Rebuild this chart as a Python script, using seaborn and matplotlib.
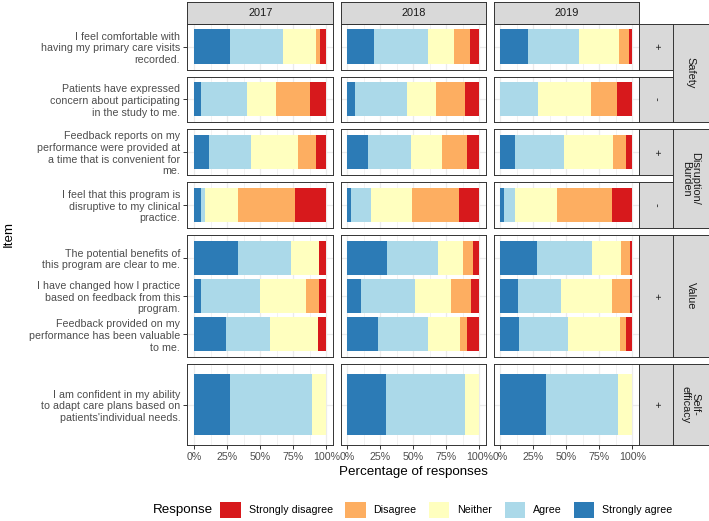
import pandas as pd
import matplotlib.pyplot as plt
import seaborn as sns
from matplotlib.patches import Patch

plt.rcParams['font.family'] = ['Liberation Sans', 'DejaVu Sans']

years = ['2017', '2018', '2019']
responses = ['Strongly agree', 'Agree', 'Neither', 'Disagree', 'Strongly disagree']
colors = ['#2c7bb6', '#abd9e9', '#ffffbf', '#fdae61', '#d7191c']

items = [
    "I feel comfortable with\nhaving my primary care visits\nrecorded.",
    "Patients have expressed\nconcern about participating\nin the study to me.",
    "Feedback reports on my\nperformance were provided at\na time that is convenient for\nme.",
    "I feel that this program is\ndisruptive to my clinical\npractice.",
    "The potential benefits of\nthis program are clear to me.",
    "I have changed how I practice\nbased on feedback from this\nprogram.",
    "Feedback provided on my\nperformance has been valuable\nto me.",
    "I am confident in my ability\nto adapt care plans based on\npatients'individual needs.",
]
domains = ['Safety', 'Safety', 'Disruption/\nBurden', 'Disruption/\nBurden',
           'Value', 'Value', 'Value', 'Self-\nefficacy']
directions = ['+', '-', '+', '-', '+', '+', '+', '+']

# % of responses per item, one value per year (2017, 2018, 2019)
strongly_agree = [[27, 20, 21], [5, 6, 0], [11, 16, 11], [5, 3, 3],
                  [33, 30, 28], [5.5, 10.5, 13.5], [24, 23.5, 14], [27, 29.5, 35]]
agree = [[40, 41, 39], [35, 39, 29], [32, 32.5, 37], [3, 15, 8],
         [40.5, 38.5, 41.5], [44.5, 40.5, 32.5], [33.5, 38, 37], [62, 59.5, 54]]
neither = [[25, 20, 30], [22, 22.5, 40], [35.5, 23.5, 37], [25, 31, 32],
           [21, 19, 22], [34.5, 27.5, 38.5], [36, 23.5, 39.5], [11, 11, 11]]
disagree = [[3, 12, 7.5], [25.5, 21.5, 19.5], [13.5, 18.75, 10.5], [43, 35.5, 41.5],
            [0, 8, 7], [10, 15, 13.5], [0, 6, 5], [0, 0, 0]]
strongly_disagree = [[5, 7, 2.5], [12.5, 11, 11.5], [8, 9.25, 4.5], [24, 15.5, 15.5],
                     [5.5, 4.5, 1.5], [5.5, 6.5, 2], [6.5, 9, 4.5], [0, 0, 0]]

series = [strongly_agree, agree, neither, disagree, strongly_disagree]
rows = []
for i, item in enumerate(items):
    for j, yr in enumerate(years):
        for r, vals in zip(responses, series):
            rows.append({'Item': item, 'Domain': domains[i], 'Direction': directions[i],
                         'Year': yr, 'Response': r, 'Pct': vals[i][j]})
df = pd.DataFrame(rows)
df['End'] = df.groupby(['Item', 'Year'])['Pct'].cumsum()

groups = list(dict.fromkeys(zip(domains, directions)))

# layout in pixels
W, H = 709, 521
def box(x0, x1, y0, y1):
    return [x0 / W, 1 - y1 / H, (x1 - x0) / W, (y1 - y0) / H]

cols_px = [(187.5, 333), (340.5, 486), (493.5, 639)]
rows_px = [(23.5, 69.5), (76.5, 122), (129, 175), (182, 228), (235, 357), (364, 445)]

fig = plt.figure(figsize=(7.09, 5.21), dpi=100)

edge = '#333333'
grid = '#ebebeb'
for gi, (dom, dirn) in enumerate(groups):
    order = [it for it, d, s in zip(items, domains, directions) if d == dom and s == dirn]
    for ci, yr in enumerate(years):
        ax = fig.add_axes(box(cols_px[ci][0], cols_px[ci][1], rows_px[gi][0], rows_px[gi][1]))
        sub = df[(df['Domain'] == dom) & (df['Direction'] == dirn) & (df['Year'] == yr)]
        for r, c in reversed(list(zip(responses, colors))):
            sns.barplot(data=sub[sub['Response'] == r], x='End', y='Item', order=order,
                        orient='h', color=c, width=0.9, saturation=1, linewidth=0,
                        errorbar=None, ax=ax)
        ax.set_xlim(-5, 105)
        ax.set_ylim(len(order) - 0.4, -0.6)
        ax.set_xticks([0, 25, 50, 75, 100])
        ax.set_xticks([12.5, 37.5, 62.5, 87.5], minor=True)
        ax.set_axisbelow(True)
        ax.grid(True, which='major', color=grid, linewidth=0.9)
        ax.grid(True, which='minor', axis='x', color=grid, linewidth=0.45)
        ax.set_xlabel('')
        ax.set_ylabel('')
        for s in ax.spines.values():
            s.set_color(edge)
            s.set_linewidth(0.7)
        ax.tick_params(axis='both', which='major', length=3.2, width=0.7, color=edge,
                       labelsize=7.7, labelcolor='#4d4d4d', pad=2)
        ax.tick_params(axis='both', which='minor', length=0)
        if gi == len(groups) - 1:
            ax.set_xticklabels(['0%', '25%', '50%', '75%', '100%'])
        else:
            ax.tick_params(axis='x', which='major', length=0, labelbottom=False)
        if ci == 0:
            ax.set_yticks(range(len(order)))
            ax.set_yticklabels(order, ha='right', multialignment='right', linespacing=1.2)
        else:
            ax.tick_params(axis='y', length=0, labelleft=False)


def strip(x0, x1, y0, y1, text, rot=0):
    sax = fig.add_axes(box(x0, x1, y0, y1))
    sax.set_facecolor('#d9d9d9')
    sax.set_xticks([])
    sax.set_yticks([])
    for s in sax.spines.values():
        s.set_color(edge)
        s.set_linewidth(0.7)
    sax.text(0.5, 0.5, text, rotation=rot, ha='center', va='center', transform=sax.transAxes,
             fontsize=7.9, color='#1a1a1a', linespacing=0.95)


for ci, yr in enumerate(years):
    strip(cols_px[ci][0], cols_px[ci][1], 2, rows_px[0][0], yr)
for gi, (dom, dirn) in enumerate(groups):
    strip(639, 673, rows_px[gi][0], rows_px[gi][1], dirn, rot=-90)
outer = [('Safety', 0, 1), ('Disruption/\nBurden', 2, 3), ('Value', 4, 4), ('Self-\nefficacy', 5, 5)]
for name, g0, g1 in outer:
    strip(673, 708.5, rows_px[g0][0], rows_px[g1][1], name, rot=-90)

fig.text(9 / W, 1 - 234 / H, 'Item', rotation=90, ha='center', va='center',
         fontsize=9.6, color='black')
fig.text(413 / W, 1 - 471.5 / H, 'Percentage of responses', ha='center', va='center',
         fontsize=9.6, color='black')

fig.text(153 / W, 1 - 510 / H, 'Response', ha='left', va='center', fontsize=9.6)
handles = [Patch(facecolor=c, edgecolor='none') for c in reversed(colors)]
fig.legend(handles, list(reversed(responses)), ncol=5, loc='center',
           bbox_to_anchor=(446.5 / W, 1 - 510 / H), frameon=False, fontsize=7.7,
           handlelength=1.9, handleheight=1.9, handletextpad=0.75, columnspacing=1.15,
           borderpad=0, borderaxespad=0)

plt.savefig('out.png', dpi=100)
